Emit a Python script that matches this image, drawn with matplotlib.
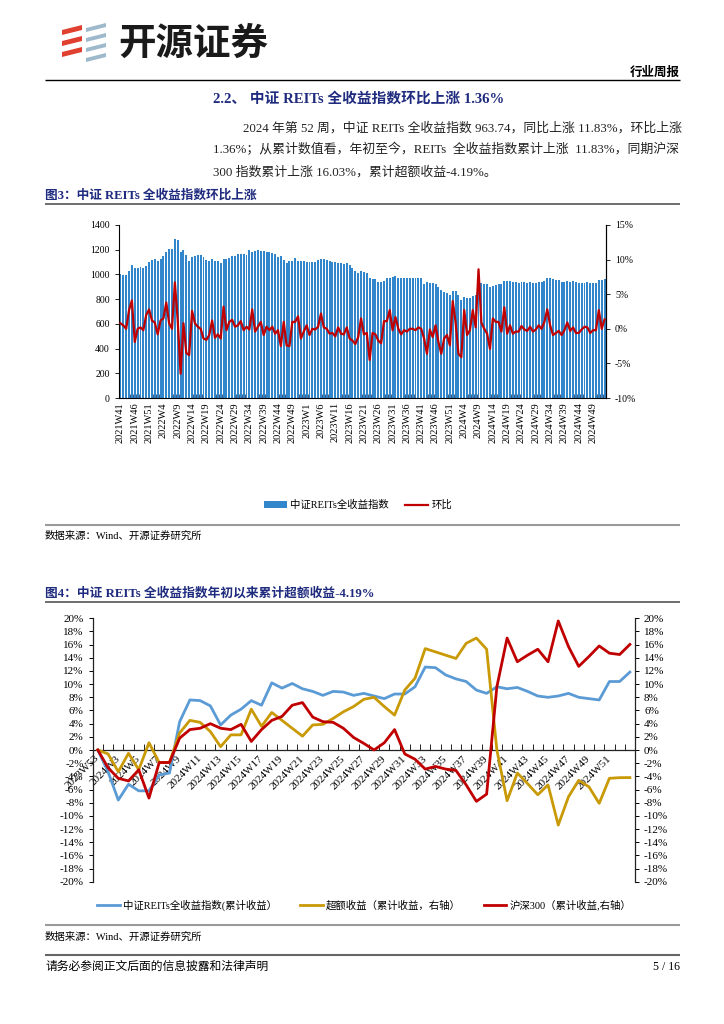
import matplotlib
matplotlib.use("Agg")
import matplotlib.pyplot as plt
from matplotlib.patches import Polygon
from matplotlib.font_manager import FontProperties

# ---------------- data ----------------
# Chart 1: weekly index level (bars) and week-on-week change in % (line)
years_weeks = [(2021, range(41, 54)), (2022, range(2, 54)), (2023, range(1, 54)), (2024, range(2, 54))]
weeks1 = [f"{y}W{w}" for y, ws in years_weeks for w in ws]

index_level = [
    1000, 995, 995, 1030, 1075, 1055, 1055, 1058, 1050, 1070,
    1100, 1115, 1125, 1110, 1125, 1150, 1185, 1205, 1205, 1285,
    1275, 1185, 1200, 1160, 1110, 1140, 1150, 1160, 1160, 1140,
    1120, 1110, 1125, 1110, 1105, 1090, 1125, 1125, 1130, 1150,
    1150, 1165, 1165, 1165, 1160, 1195, 1185, 1190, 1200, 1190,
    1190, 1185, 1180, 1175, 1165, 1145, 1150, 1120, 1095, 1105,
    1110, 1130, 1110, 1110, 1110, 1100, 1100, 1100, 1100, 1120,
    1125, 1125, 1115, 1110, 1100, 1100, 1095, 1090, 1085, 1090,
    1075, 1055, 1030, 1015, 1030, 1020, 1010, 970, 965, 960,
    935, 935, 950, 970, 970, 980, 985, 975, 975, 975,
    975, 975, 975, 975, 975, 970, 925, 935, 930, 930,
    920, 900, 870, 860, 850, 830, 862, 862, 833, 796,
    817, 808, 808, 829, 832, 899, 927, 926, 920, 895,
    908, 915, 926, 920, 950, 943, 949, 942, 939, 933,
    939, 938, 933, 936, 932, 929, 935, 935, 945, 970,
    970, 960, 955, 951, 940, 936, 945, 942, 944, 939,
    932, 931, 932, 936, 931, 929, 927, 951, 951, 963.74,
]

wow_change = [
    0.8, 0.5, 0.0, 2.7, 4.1, -1.9, 0.0, 0.2, -0.2, 2.0,
    2.8, 1.2, 0.9, -0.8, 1.2, 1.5, 3.8, 0.8, 0.0, 6.7,
    1.2, -6.5, 0.8, -3.5, -3.8, 2.6, 0.8, 0.3, 0.0, -1.4,
    -1.6, -0.9, 1.2, -1.3, -0.8, -1.4, 3.2, -0.2, 1.0, 1.3,
    0.3, 0.5, 1.1, -0.2, 0.3, -0.1, 2.8, -0.4, 0.3, 1.0,
    -0.9, 0.3, -0.2, 0.3, -0.7, -0.2, -2.5, 1.0, -2.4, -2.5,
    1.0, 1.0, 1.8, -1.4, -0.4, 0.5, -0.9, 0.0, -0.1, 0.3,
    2.2, 0.2, 0.0, -0.7, -0.6, -1.1, 0.2, -0.7, -0.8, 0.2,
    -1.4, -1.7, -2.2, -1.2, 1.5, -0.8, -0.6, -4.5, -0.6, -0.8,
    -1.7, -2.1, 1.1, 1.1, 2.7, -0.2, 1.7, 0.0, -0.8, -0.2,
    -0.4, 0.0, 0.0, -0.2, 0.2, 0.0, -1.4, -3.6, -0.1, -1.2,
    0.5, -1.9, -3.6, -1.4, -0.9, -2.4, 4.0, 0.9, -3.6, -4.1,
    2.7, -0.9, -0.2, 2.7, 0.2, 8.6, 0.9, 0.0, -0.7, -2.9,
    1.5, 1.0, 1.0, -0.4, 3.1, -0.7, 0.5, -0.7, -0.4, -0.4,
    0.4, -0.1, -0.3, 0.3, -0.4, -0.1, 0.5, 0.0, 1.0, 2.8,
    0.5, -0.9, -0.6, -0.3, -0.9, -0.2, 0.9, -0.3, 0.2, -0.6,
    -0.6, -0.1, 0.3, 0.2, -0.6, -0.2, -0.2, 2.7, 0.0, 1.36,
]

# Chart 2: cumulative returns since start of 2024 (%)
weeks2 = ["2023W53"] + [f"2024W{w}" for w in range(2, 54)]
reits_cum = [
    0, -3.3, -7.6, -5.2, -6.2, -6.2, -3.8, -3.5, 4.3, 7.6,
    7.5, 6.7, 3.8, 5.3, 6.2, 7.5, 6.8, 10.2, 9.4, 10.1,
    9.3, 8.9, 8.3, 8.9, 8.8, 8.3, 8.6, 8.2, 7.8, 8.5,
    8.5, 9.6, 12.6, 12.5, 11.4, 10.8, 10.4, 9.1, 8.6, 9.6,
    9.3, 9.5, 8.9, 8.2, 8.0, 8.2, 8.6, 8.0, 7.8, 7.6,
    10.4, 10.4, 11.83,
]
excess_cum = [
    0, -0.6, -3.3, -0.5, -3.0, 1.1, -1.9, -1.9, 2.6, 4.5,
    4.2, 2.8, 0.5, 2.3, 2.3, 6.2, 3.6, 5.7, 4.5, 3.3,
    2.1, 3.8, 3.9, 4.8, 5.8, 6.6, 7.7, 8.0, 6.6, 5.3,
    9.1, 10.9, 15.4, 14.9, 14.4, 13.9, 16.2, 17.0, 15.3, 0.0,
    -7.7, -3.5, -5.1, -6.8, -5.3, -11.4, -7.1, -4.6, -5.6, -8.1,
    -4.3, -4.2, -4.19,
]
hs300_cum = [
    0, -2.7, -4.3, -4.7, -3.0, -7.3, -1.9, -1.9, 1.8, 3.1,
    3.3, 4.0, 3.3, 3.1, 3.9, 1.3, 3.1, 4.5, 5.1, 6.8,
    7.2, 5.0, 4.3, 4.2, 3.3, 1.9, 1.0, 0.0, 1.1, 3.1,
    -0.6, -1.4, -2.9, -2.5, -2.9, -3.1, -5.3, -7.8, -6.7, 9.6,
    17.0, 13.4, 14.4, 15.3, 13.4, 19.6, 15.7, 12.7, 14.2, 15.8,
    14.7, 14.5, 16.03,
]

legend1_labels = ["中证REITs全收益指数", "环比"]
legend2_labels = ["中证REITs全收益指数(累计收益）", "超额收益（累计收益，右轴）", "沪深300（累计收益,右轴）"]

# ---------------- styling ----------------
W, H = 724, 1024
SERIF = ['Liberation Serif', 'Noto Sans CJK SC']
CJK = ['Noto Sans CJK SC', 'DejaVu Sans']
NAVY = '#1F2B7E'
BAR_BLUE = '#3286CB'
RED = '#C00000'
LBLUE = '#5B9BD5'
GOLD = '#C99A06'

fig = plt.figure(figsize=(W / 100, H / 100), dpi=100)
bg = fig.add_axes([0, 0, 1, 1])
bg.set_xlim(0, W)
bg.set_ylim(H, 0)
bg.axis('off')
renderer = fig.canvas.get_renderer()


def put(x, y, s, size, family=SERIF, weight='normal', color='black', ha='left', va='center', width=None):
    t = bg.text(x, y, s, fontsize=size, family=family, weight=weight, color=color, ha=ha, va=va)
    if width is not None:
        w = t.get_window_extent(renderer=renderer).width
        t.set_fontsize(size * width / w)
    return t


def hline(y, x0=45, x1=680, color='#555555', lw=1.0):
    bg.plot([x0, x1], [y, y], color=color, lw=lw, solid_capstyle='butt')


def axes_px(left, top, right, bottom):
    return fig.add_axes([left / W, 1 - bottom / H, (right - left) / W, (bottom - top) / H])


# ---------------- header ----------------
for yc in (32, 43, 54):
    bg.add_patch(Polygon([(62, yc + 3), (82, yc - 2), (82, yc - 7), (62, yc - 2)], closed=True,
                         color='#E0402F', lw=0))
for yc in (30, 40, 50, 60):
    bg.add_patch(Polygon([(86, yc + 2), (106, yc - 3), (106, yc - 7), (86, yc - 2)], closed=True,
                         color='#9DB9CB', lw=0))
put(118, 43, "开源证券", 26, family=CJK, weight='bold', color='#1A1A1A', width=150)
put(680, 72, "行业周报", 9, family=CJK, weight='bold', ha='right')
hline(80, 45, 680, color='black', lw=1.0)

put(213, 99, "2.2、 中证 REITs 全收益指数环比上涨 1.36%", 11, weight='bold', color=NAVY, width=290)
p1 = put(243, 128, "2024 年第 52 周，中证 REITs 全收益指数 963.74，同比上涨 11.83%，环比上涨", 10,
         color='#222222', width=437)
p2 = put(213, 150, "1.36%；从累计数值看，年初至今，REITs  全收益指数累计上涨  11.83%，同期沪深", 10,
         color='#222222', width=467)
put(213, 172, "300 指数累计上涨 16.03%，累计超额收益-4.19%。", p2.get_fontsize(), color='#222222')

put(45, 195, "图3：中证 REITs 全收益指数环比上涨", 9.5, weight='bold', color=NAVY, width=213)
hline(204, color='#555555', lw=1.2)

# ---------------- chart 1 ----------------
ax1 = axes_px(119, 225, 606, 398)
ax1.patch.set_alpha(0)
x1 = list(range(len(weeks1)))
bars = ax1.bar(x1, index_level, width=0.68, color=BAR_BLUE, linewidth=0, zorder=2)
ax1.set_xlim(-0.5, len(weeks1) - 0.5)
ax1.set_ylim(0, 1400)
ax1.set_yticks(range(0, 1401, 200))
ax1.set_xticks(x1[::5])
ax1.set_xticklabels(weeks1[::5], rotation=90, fontsize=7.5, family=SERIF)
ax1.set_xticks([i - 0.5 for i in x1], minor=True)
ax1.tick_params(axis='x', which='major', length=0, pad=3)
ax1.tick_params(axis='x', which='minor', length=3, direction='in', color='#1F3F6A', width=0.6)
ax1.tick_params(axis='y', length=3, direction='out', labelsize=7, width=0.6)
for lab in ax1.get_yticklabels():
    lab.set_family(SERIF)
ax1.spines['top'].set_visible(False)
for s in ('left', 'bottom', 'right'):
    ax1.spines[s].set_color('black')
    ax1.spines[s].set_linewidth(0.8)

ax1r = ax1.twinx()
line1, = ax1r.plot(x1, wow_change, color=RED, lw=1.6, zorder=3)
ax1r.set_ylim(-10, 15)
ax1r.set_yticks(range(-10, 16, 5))
ax1r.yaxis.set_major_formatter(plt.FuncFormatter(lambda v, p: f"{v:.0f}%"))
ax1r.tick_params(axis='y', length=3, direction='out', labelsize=7, width=0.6)
for lab in ax1r.get_yticklabels():
    lab.set_family(SERIF)
for s in ('top', 'left', 'bottom'):
    ax1r.spines[s].set_visible(False)
ax1r.spines['right'].set_color('black')
ax1r.spines['right'].set_linewidth(0.8)

fig.legend([bars, line1], legend1_labels, loc='center', bbox_to_anchor=(358 / W, 1 - 505 / H),
           ncol=2, frameon=False, prop=FontProperties(family=SERIF, size=7.5),
           handlelength=2.2, handleheight=0.6, columnspacing=1.6, handletextpad=0.3)

hline(525, color='#999999', lw=1.5)
put(45, 536, "数据来源：Wind、开源证券研究所", 7.5)

put(45, 593, "图4：中证 REITs 全收益指数年初以来累计超额收益-4.19%", 9.5, weight='bold', color=NAVY, width=330)
hline(602, color='#555555', lw=1.2)

# ---------------- chart 2 ----------------
ax2 = axes_px(92.7, 618.3, 635, 881.7)
ax2.patch.set_alpha(0)
x2 = list(range(len(weeks2)))
l_reits, = ax2.plot(x2, reits_cum, color=LBLUE, lw=2.0, zorder=3)
ax2.set_xlim(-0.5, len(weeks2) - 0.5)
ax2.set_ylim(-20, 20)
ax2.set_yticks(range(-20, 21, 2))
ax2.yaxis.set_major_formatter(plt.FuncFormatter(lambda v, p: f"{v:.0f}%"))
ax2.spines['bottom'].set_position(('data', 0))
ax2.spines['top'].set_visible(False)
ax2.spines['right'].set_visible(False)
for s in ('left', 'bottom'):
    ax2.spines[s].set_color('#222222')
    ax2.spines[s].set_linewidth(0.9)
lab_idx = list(range(0, 51, 2))
ax2.set_xticks(lab_idx)
ax2.set_xticklabels([weeks2[i] for i in lab_idx], rotation=45, ha='right', va='center',
                    rotation_mode='anchor', fontsize=8, family=SERIF)
ax2.set_xticks([i - 0.5 for i in x2] + [len(x2) - 0.5], minor=True)
ax2.tick_params(axis='x', which='major', length=0, pad=5)
ax2.tick_params(axis='x', which='minor', length=4, direction='in', width=0.7, color='#222222')
ax2.tick_params(axis='y', length=3, direction='out', labelsize=8, width=0.7)
for lab in ax2.get_yticklabels():
    lab.set_family(SERIF)

ax2r = ax2.twinx()
l_exc, = ax2r.plot(x2, excess_cum, color=GOLD, lw=2.0, zorder=3)
l_hs, = ax2r.plot(x2, hs300_cum, color=RED, lw=2.0, zorder=3)
ax2r.set_ylim(-20, 20)
ax2r.set_yticks(range(-20, 21, 2))
ax2r.yaxis.set_major_formatter(plt.FuncFormatter(lambda v, p: f"{v:.0f}%"))
ax2r.tick_params(axis='y', length=3, direction='out', labelsize=8, width=0.7)
for lab in ax2r.get_yticklabels():
    lab.set_family(SERIF)
for s in ('top', 'left', 'bottom'):
    ax2r.spines[s].set_visible(False)
ax2r.spines['right'].set_color('#222222')
ax2r.spines['right'].set_linewidth(0.9)

fig.legend([l_reits, l_exc, l_hs], legend2_labels, loc='center', bbox_to_anchor=(364 / W, 1 - 905 / H),
           ncol=3, frameon=False, prop=FontProperties(family=SERIF, size=7.5),
           handlelength=2.2, columnspacing=2.2, handletextpad=0.3)

hline(925, color='#999999', lw=1.5)
put(45, 937, "数据来源：Wind、开源证券研究所", 7.5)
hline(955, color='#666666', lw=1.5)
put(45, 967, "请务必参阅正文后面的信息披露和法律声明", 8.5)
put(680, 967, "5 / 16", 8.5, ha='right')

fig.savefig("out.png", dpi=100)
